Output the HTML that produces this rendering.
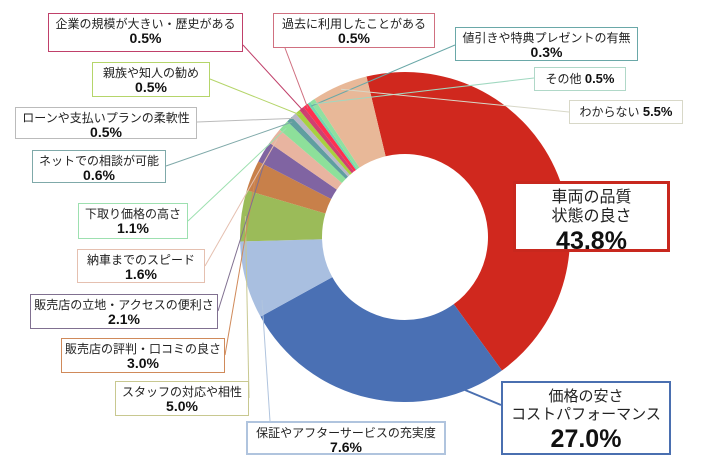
<!DOCTYPE html>
<html><head><meta charset="utf-8"><style>
body{margin:0;background:#fff;width:710px;height:474px;overflow:hidden;position:relative;font-family:"Liberation Sans","Noto Sans CJK JP",sans-serif;}
.b{position:absolute;background:#fff;border:1.5px solid #999;box-sizing:border-box;text-align:center;font-size:12px;line-height:14px;color:#222;padding-top:3px;white-space:nowrap}
.b b{font-size:14px;display:block;color:#111}
svg{position:absolute;left:0;top:0}
</style></head><body>
<svg id="s" width="710" height="474"></svg>
<div class="b" style="left:48px;top:13px;width:195px;height:39px;border-color:#c0406a">企業の規模が大きい・歴史がある<b>0.5%</b></div>
<div class="b" style="left:92px;top:62px;width:118px;height:35px;border-color:#b5d56a">親族や知人の勧め<b>0.5%</b></div>
<div class="b" style="left:15px;top:107px;width:182px;height:32px;border-color:#bbb">ローンや支払いプランの柔軟性<b>0.5%</b></div>
<div class="b" style="left:32px;top:150px;width:134px;height:33px;border-color:#7fa9a9">ネットでの相談が可能<b>0.6%</b></div>
<div class="b" style="left:78px;top:203px;width:110px;height:36px;border-color:#9de0b0">下取り価格の高さ<b>1.1%</b></div>
<div class="b" style="left:77px;top:249px;width:128px;height:34px;border-color:#e5c0b0">納車までのスピード<b>1.6%</b></div>
<div class="b" style="left:30px;top:294px;width:188px;height:35px;border-color:#807090">販売店の立地・アクセスの便利さ<b>2.1%</b></div>
<div class="b" style="left:61px;top:338px;width:164px;height:35px;border-color:#d08a5a">販売店の評判・口コミの良さ<b>3.0%</b></div>
<div class="b" style="left:115px;top:381px;width:134px;height:35px;border-color:#c8c890">スタッフの対応や相性<b>5.0%</b></div>
<div class="b" style="left:246px;top:421px;width:200px;height:34px;border-color:#b0c4de;border-width:2px">保証やアフターサービスの充実度<b>7.6%</b></div>
<div class="b" style="left:273px;top:13px;width:162px;height:35px;border-color:#d07080">過去に利用したことがある<b>0.5%</b></div>
<div class="b" style="left:455px;top:27px;width:183px;height:34px;border-color:#6aa8a8">値引きや特典プレゼントの有無<b>0.3%</b></div>
<div class="b" style="left:534px;top:67px;width:92px;height:24px;border-color:#b0d8c8;padding-top:4px">その他 <b style="display:inline;font-size:13px">0.5%</b></div>
<div class="b" style="left:569px;top:100px;width:114px;height:24px;border-color:#d8d8c8;padding-top:4px">わからない <b style="display:inline;font-size:13px">5.5%</b></div>
<div class="b" style="left:513px;top:181px;width:157px;height:71px;border:3px solid #c8281e;font-size:16px;line-height:19px;padding-top:4px">車両の品質<br>状態の良さ<b style="font-size:25px;line-height:30px">43.8%</b></div>
<div class="b" style="left:501px;top:381px;width:170px;height:74px;border:2.5px solid #4a6fb0;font-size:15px;line-height:18px;padding-top:5px">価格の安さ<br>コストパフォーマンス<b style="font-size:25px;line-height:30px">27.0%</b></div>
<script>
var cx=405,cy=237,R=165,r=83;
var d=[[43.8,'#d0281e'],[27,'#4a70b4'],[7.6,'#a9bfe0'],[5,'#9bbb59'],[3,'#c8804a'],[2.1,'#8064a2'],[1.6,'#e8b4a0'],[1.1,'#8de09a'],[0.6,'#5f9ea0'],[0.5,'#b8b8c8'],[0.5,'#a8d040'],[0.5,'#d04070'],[0.5,'#ff3050'],[0.3,'#70d8b0'],[0.5,'#90e0a0'],[5.5,'#e8b898']];
var a=-13.5,h='',mids=[];
function p(rad,ang){var t=ang*Math.PI/180;return [cx+rad*Math.sin(t),cy-rad*Math.cos(t)];}
d.forEach(function(s){var sw=s[0]/100.1*360,b=a+sw,l=sw>180?1:0;
var p1=p(R,a),p2=p(R,b),p3=p(r,b),p4=p(r,a);
h+='<path d="M'+p1+'A'+R+','+R+' 0 '+l+' 1 '+p2+'L'+p3+'A'+r+','+r+' 0 '+l+' 0 '+p4+'Z" fill="'+s[1]+'"/>';
mids.push(p(R-4,a+sw/2));a=b;});
mids[1]=[465,390];mids[2]=[262,300];
var L=[[2,[270,421],'#b0c4de'],[3,[249,398],'#c8c890'],[4,[225,355],'#d08a5a'],[5,[218,311],'#807090'],[6,[205,266],'#e5c0b0'],[7,[188,221],'#9de0b0'],[8,[166,166],'#7fa9a9'],[9,[197,122],'#bbb'],[10,[210,79],'#b5d56a'],[11,[243,45],'#c0406a'],[12,[285,48],'#d07080'],[13,[455,45],'#6aa8a8'],[14,[534,78],'#a0d8c0'],[15,[569,112],'#d8d8c8'],[1,[501,405],'#4a6fb0']];
L.forEach(function(q){var m=mids[q[0]];h+='<line x1="'+q[1][0]+'" y1="'+q[1][1]+'" x2="'+m[0]+'" y2="'+m[1]+'" stroke="'+q[2]+'" stroke-width="'+(q[0]==1?2:1)+'"/>';});
document.getElementById('s').innerHTML=h;
</script>
</body></html>
